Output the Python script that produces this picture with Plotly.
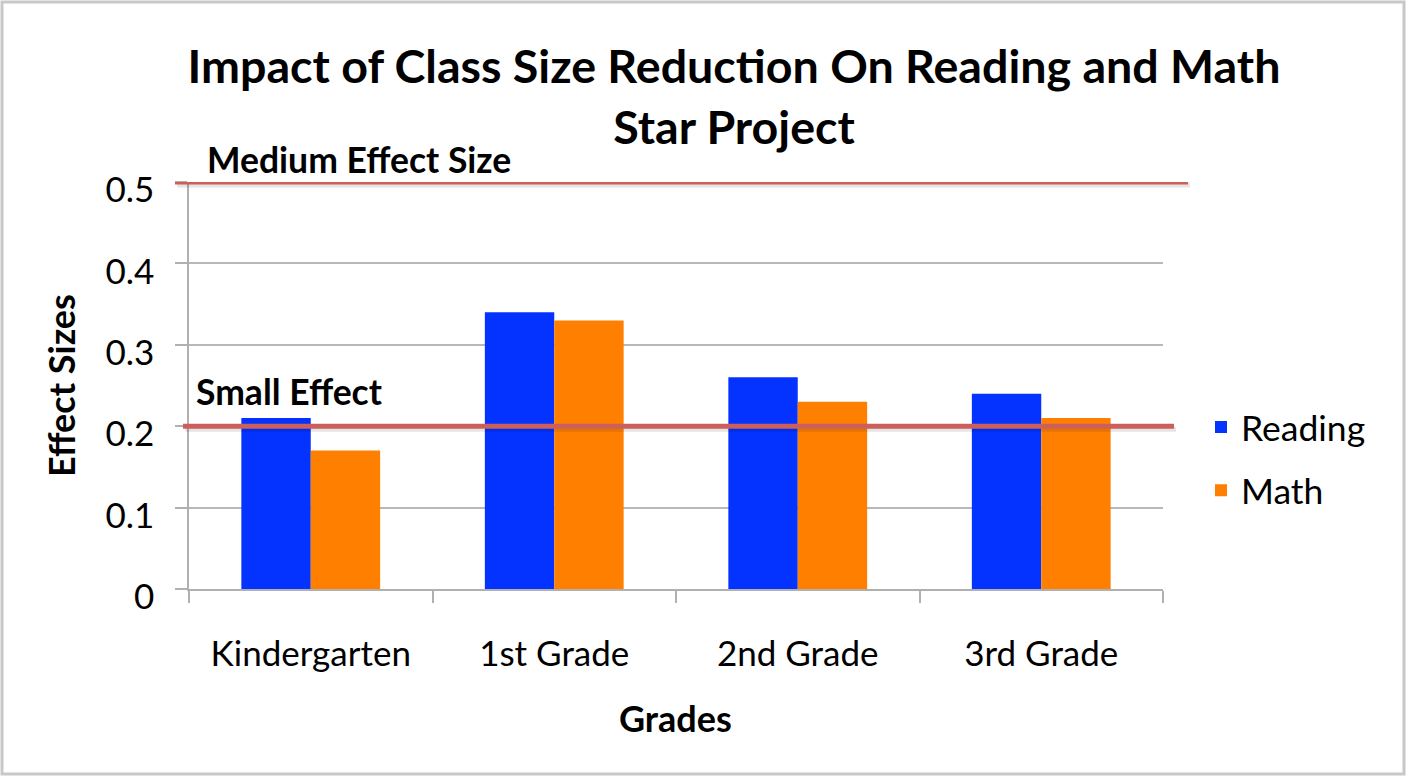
import plotly.graph_objects as go

grades = ["Kindergarten", "1st Grade", "2nd Grade", "3rd Grade"]
reading = [0.21, 0.34, 0.26, 0.24]
math_vals = [0.17, 0.33, 0.23, 0.21]
y_ticks = [0, 0.1, 0.2, 0.3, 0.4, 0.5]
y_tick_text = ["0", "0.1", "0.2", "0.3", "0.4", "0.5"]
medium_effect = 0.5
small_effect = 0.2

FONT = "Lato"
W, H = 1408, 777
L, R, T, B = 189, 245, 182, 188
pw, ph = W - L - R, H - T - B

def px_x(p):
    return (p - L) / pw

def px_y(p):
    return (H - B - p) / ph

fig = go.Figure()
fig.add_trace(go.Bar(x=grades, y=reading, name="Reading", marker_color="#0433FF",
                     marker_line_width=0, legendgroup="r"))
fig.add_trace(go.Bar(x=grades, y=math_vals, name="Math", marker_color="#FF8000",
                     marker_line_width=0, legendgroup="m"))

red = "#cc5f5b"
unit = 0.5 / ph
for val, x0, x1 in [(medium_effect, 175, 1188), (small_effect, 183, 1174)]:
    fig.add_shape(type="line", xref="paper", yref="y", x0=px_x(x0 + 2), x1=px_x(x1 + 2),
                  y0=val - 3 * unit, y1=val - 3 * unit,
                  line=dict(color="rgba(0,0,0,0.10)", width=5), layer="above")
    fig.add_shape(type="line", xref="paper", yref="y", x0=px_x(x0), x1=px_x(x1),
                  y0=val, y1=val, line=dict(color=red, width=5), layer="above")

# outer frame
fig.add_shape(type="rect", xref="paper", yref="paper", x0=px_x(2), x1=px_x(1404),
              y0=px_y(774), y1=px_y(2), line=dict(color="#c8c8c8", width=3), layer="below")

fig.add_annotation(text="<b>Medium Effect Size</b>", xref="paper", yref="y",
                   x=px_x(205), y=medium_effect, xanchor="left", yanchor="bottom", yshift=-1,
                   showarrow=False, font=dict(family=FONT, size=35.5, color="black"))
fig.add_annotation(text="<b>Small Effect</b>", xref="paper", yref="y",
                   x=px_x(194), y=small_effect, xanchor="left", yanchor="bottom", yshift=11,
                   showarrow=False, font=dict(family=FONT, size=35.5, color="black"))
fig.add_annotation(text="<b>Effect Sizes</b>", xref="paper", yref="paper",
                   x=px_x(61), y=px_y(386), xanchor="center", yanchor="middle",
                   textangle=-90, showarrow=False,
                   font=dict(family=FONT, size=36, color="black"))
fig.add_annotation(text="<b>Grades</b>", xref="paper", yref="paper",
                   x=px_x(675.5), y=px_y(718), xanchor="center", yanchor="middle",
                   showarrow=False,
                   font=dict(family=FONT, size=36, color="black"))

fig.update_layout(
    width=W, height=H,
    margin=dict(l=L, r=R, t=T, b=B),
    paper_bgcolor="white", plot_bgcolor="white",
    title=dict(text="<b>Impact of Class Size Reduction On Reading and Math<br>Star Project</b>",
               x=734 / W, xanchor="center", y=1 - 83 / H, yanchor="middle", yref="container",
               font=dict(family=FONT, size=46.6, color="black")),
    bargap=0.43, bargroupgap=0,
    font=dict(family=FONT, color="black"),
    legend=dict(x=px_x(1201), y=px_y(459), xanchor="left", yanchor="middle",
                font=dict(family=FONT, size=35.5, color="black"), tracegroupgap=14,
                bgcolor="rgba(0,0,0,0)"),
    showlegend=True,
)
fig.update_xaxes(showline=True, linecolor="#b0b0b0", linewidth=1.5, ticks="outside",
                 tickson="boundaries", ticklen=12, tickcolor="#b0b0b0", tickwidth=1.5,
                 tickfont=dict(family=FONT, size=35, color="black"), ticklabelstandoff=33,
                 showgrid=False)
fig.update_yaxes(range=[0, 0.5], tickvals=y_ticks, ticktext=y_tick_text,
                 showline=True, linecolor="#b0b0b0", linewidth=1.5, ticks="outside",
                 ticklen=12, tickcolor="#b0b0b0", tickwidth=1.5,
                 showgrid=True, gridcolor="#b8b8b8", gridwidth=1.5, zeroline=False,
                 tickfont=dict(family=FONT, size=35, color="black"),
                 ticklabelstandoff=14, ticklabelshift=8)

fig.write_html("out.html", config={"displayModeBar": False},
               post_script="document.body.style.margin='0px';")
